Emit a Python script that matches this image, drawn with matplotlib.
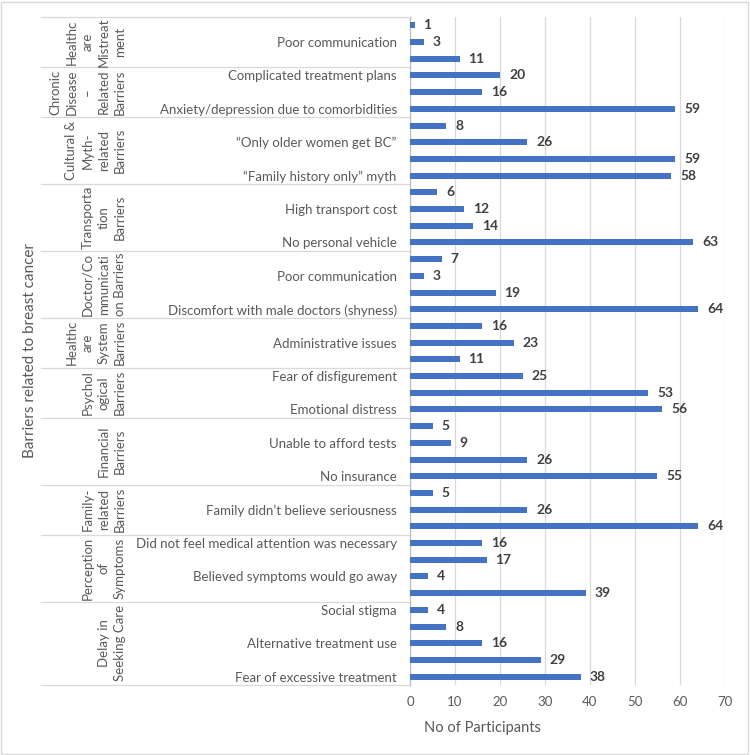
import matplotlib
matplotlib.use("Agg")
import matplotlib.pyplot as plt
import matplotlib.transforms as mtransforms
from matplotlib.patches import Rectangle
import numpy as np

# ----------------------------------------------------------------------------------------------------------------------
# Data (top to bottom)
# ----------------------------------------------------------------------------------------------------------------------
groups = [
    "Healthc\nare\nMistreat\nment",
    "Chronic\nDisease\n–\nRelated\nBarriers",
    "Cultural &\nMyth-\nrelated\nBarriers",
    "Transporta\ntion\nBarriers",
    "Doctor/Co\nmmunicati\non Barriers",
    "Healthc\nare\nSystem\nBarriers",
    "Psychol\nogical\nBarriers",
    "Financial\nBarriers",
    "Family-\nrelated\nBarriers",
    "Perception\nof\nSymptoms",
    "Delay in\nSeeking Care",
]
group_sizes = [3, 3, 4, 4, 4, 3, 3, 4, 3, 4, 5]

# blank labels are the ones Excel skipped because of crowding
row_labels = [
    "", "Poor communication", "",
    "Complicated treatment plans", "", "Anxiety/depression due to comorbidities",
    "", "\u201cOnly older women get BC\u201d", "", "\u201cFamily history only\u201d myth",
    "", "High transport cost", "", "No personal vehicle",
    "", "Poor communication", "", "Discomfort with male doctors (shyness)",
    "", "Administrative issues", "",
    "Fear of disfigurement", "", "Emotional distress",
    "", "Unable to afford tests", "", "No insurance",
    "", "Family didn\u2019t believe seriousness", "",
    "Did not feel medical attention was necessary", "", "Believed symptoms would go away", "",
    "Social stigma", "", "Alternative treatment use", "", "Fear of excessive treatment",
]
values = [
    1, 3, 11,
    20, 16, 59,
    8, 26, 59, 58,
    6, 12, 14, 63,
    7, 3, 19, 64,
    16, 23, 11,
    25, 53, 56,
    5, 9, 26, 55,
    5, 26, 64,
    16, 17, 4, 39,
    4, 8, 16, 29, 38,
]
x_ticks = [0, 10, 20, 30, 40, 50, 60, 70]

# ----------------------------------------------------------------------------------------------------------------------
plt.rcParams['font.family'] = ['Lato', 'DejaVu Sans']
text_col = '#595959'
bar_col = '#4472C4'
line_col = '#D9D9D9'

W, H = 750, 755
fig = plt.figure(figsize=(W / 100, H / 100), dpi=100)
ax = fig.add_axes([410 / W, 1 - 685 / H, 315 / W, 668 / H])

n = len(values)
y = np.arange(n)
ax.barh(y, values, height=0.36, color=bar_col, zorder=3)

# value labels
for yi, v in zip(y, values):
    ax.annotate(str(v), xy=(v, yi), xytext=(9, 0), textcoords='offset pixels',
                ha='left', va='center', fontsize=10, fontweight='bold', color='#404040')

ax.set_ylim(n - 0.5, -0.5)
ax.set_xlim(0, 70)
ax.set_xticks(x_ticks)
ax.set_yticks(y)
ax.set_yticklabels(row_labels)
ax.tick_params(axis='y', length=0, pad=9.5, labelsize=9.5, labelcolor=text_col)
ax.tick_params(axis='x', length=0, pad=8, labelsize=9.5, labelcolor=text_col)
ax.xaxis.grid(True, color=line_col, linewidth=0.9, zorder=0)
ax.set_axisbelow(True)
for s in ['top', 'right', 'bottom']:
    ax.spines[s].set_visible(False)
ax.spines['left'].set_color('#BFBFBF')
ax.spines['left'].set_linewidth(0.9)

# group separators and rotated group labels
trans = mtransforms.blended_transform_factory(fig.transFigure, ax.transData)
bounds = np.concatenate([[0], np.cumsum(group_sizes)]) - 0.5
for b in bounds:
    ax.plot([41 / W, 410 / W], [b, b], transform=trans, color=line_col,
            linewidth=0.9, clip_on=False)
for name, lo, hi in zip(groups, bounds[:-1], bounds[1:]):
    ax.text(126 / W, (lo + hi) / 2, name, transform=trans, rotation=90,
            ha='right', va='center', multialignment='center', linespacing=1.42,
            fontsize=9.5, color=text_col)

fig.text(30 / W, 1 - 351 / H, "Barriers related to breast cancer", rotation=90,
         ha='center', va='center', fontsize=11, color=text_col)
fig.text(482 / W, 1 - 728 / H, "No of Participants", ha='center', va='center',
         fontsize=10.5, color=text_col)

# light chart border
fig.add_artist(Rectangle((1 / W, 1 / H), (W - 3) / W, (H - 3) / H, transform=fig.transFigure,
                         fill=False, edgecolor=line_col, linewidth=1))

fig.savefig("out.png", dpi=100)
